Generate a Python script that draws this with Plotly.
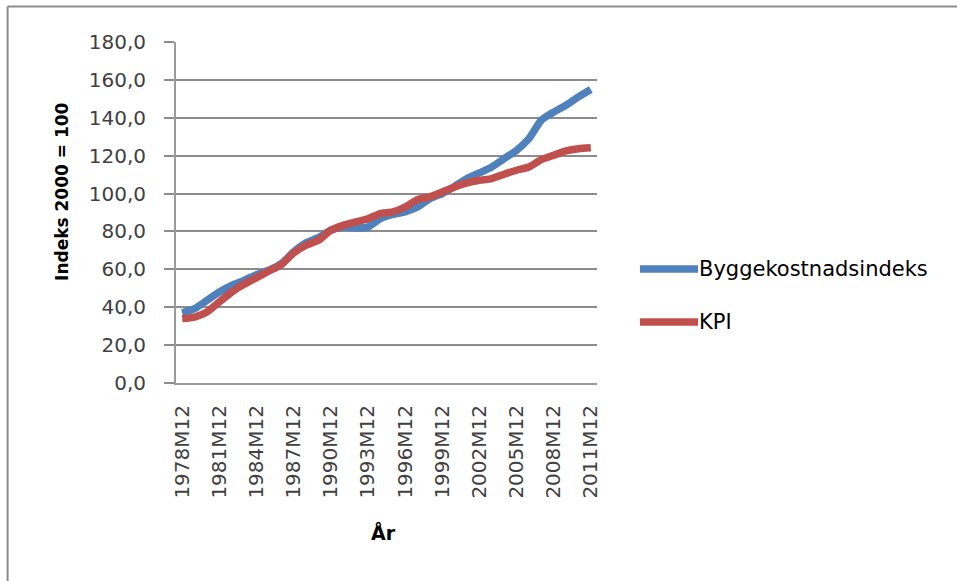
import plotly.graph_objects as go

years = [str(y) + "M12" for y in range(1978, 2012)]
bygg = [37.0, 39.2, 43.6, 48.0, 51.5, 54.2, 57.2, 59.5, 63.0, 69.2, 74.0, 76.7,
        80.6, 82.3, 81.8, 82.3, 86.7, 89.0, 90.3, 92.9, 97.3, 100.0, 103.8, 107.9,
        110.9, 114.0, 118.4, 122.8, 129.0, 138.7, 143.0, 146.6, 151.0, 154.9]
kpi = [34.0, 34.8, 37.5, 42.8, 48.0, 52.1, 55.6, 59.1, 62.5, 68.6, 72.7, 75.3,
       80.6, 83.2, 85.0, 86.7, 89.4, 90.3, 92.9, 96.8, 98.2, 100.8, 103.5, 105.6,
       107.0, 107.9, 110.2, 112.3, 114.0, 117.9, 120.2, 122.5, 123.7, 124.2]
series_names = ["Byggekostnadsindeks", "KPI"]
colors = ["#4F81BD", "#C0504D"]
yticks = [0, 20, 40, 60, 80, 100, 120, 140, 160, 180]
ytick_text = [f"{v},0" for v in yticks]
xtick_vals = years[::3]

FONT = "DejaVu Sans"
fig = go.Figure()
for name, vals, col in zip(series_names, [bygg, kpi], colors):
    fig.add_trace(go.Scatter(x=years, y=vals, mode="lines", name=name,
                             line=dict(color=col, width=7.5, shape="spline", smoothing=0.6),
                             showlegend=False))

fig.update_layout(
    width=957, height=581,
    margin=dict(l=176, r=360, t=42, b=198),
    paper_bgcolor="white", plot_bgcolor="white",
    font=dict(family=FONT, size=20, color="#404040"),
    xaxis=dict(type="category", range=[-0.5, 33.5], tickmode="array",
               tickvals=xtick_vals, ticktext=xtick_vals, tickangle=-90,
               showgrid=False, showline=True, linecolor="#9a9a9a", linewidth=2,
               ticks="", ticklabelstandoff=12,
               tickfont=dict(size=20, family=FONT, color="#404040")),
    yaxis=dict(range=[0, 180], tickmode="array", tickvals=yticks, ticktext=ytick_text,
               showgrid=True, gridcolor="#8c8c8c", gridwidth=1.5,
               showline=True, linecolor="#9a9a9a", linewidth=2,
               ticks="outside", ticklen=10, tickcolor="#8c8c8c", tickwidth=1.5,
               ticklabelstandoff=14,
               zeroline=False, tickfont=dict(size=20, family=FONT, color="#404040")),
)

# Chart area border (top and left visible)
fig.add_shape(type="line", xref="paper", yref="paper", x0=-0.40, x1=1.86, y0=1.104, y1=1.104,
              line=dict(color="#8c8c8c", width=2))
fig.add_shape(type="line", xref="paper", yref="paper", x0=-0.40, x1=-0.40, y0=1.104, y1=-0.59,
              line=dict(color="#8c8c8c", width=2))

# Axis titles
fig.add_annotation(text="<b>Indeks 2000 = 100</b>", xref="paper", yref="paper",
                   x=-0.271, y=0.563, xanchor="center", yanchor="middle",
                   textangle=-90, showarrow=False,
                   font=dict(family=FONT, size=17, color="#000000"))
fig.add_annotation(text="<b>År</b>", xref="paper", yref="paper",
                   x=0.492, y=-0.437, xanchor="center", yanchor="middle", showarrow=False,
                   font=dict(family=FONT, size=19, color="#000000"))

# Legend
leg_y = [0.334, 0.179]
for name, col, ly in zip(series_names, colors, leg_y):
    fig.add_shape(type="line", xref="paper", yref="paper", x0=1.102, x1=1.24, y0=ly, y1=ly,
                  line=dict(color=col, width=7.5))
    fig.add_annotation(text=name, xref="paper", yref="paper", x=1.238, y=ly,
                       xanchor="left", yanchor="middle", showarrow=False,
                       font=dict(family=FONT, size=21, color="#000000"))

fig.write_html("out.html")
